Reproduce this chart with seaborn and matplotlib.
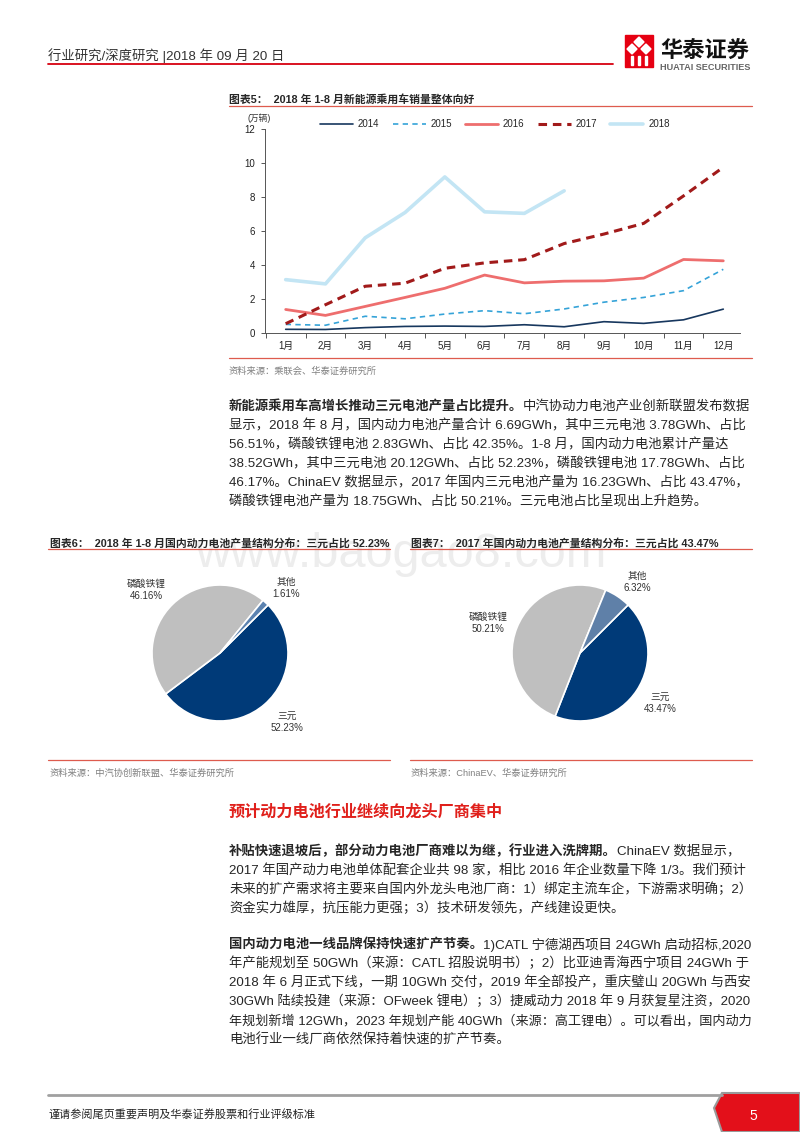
import numpy as np
import pandas as pd
import matplotlib
matplotlib.use("Agg")
import matplotlib.pyplot as plt
from matplotlib.lines import Line2D
from matplotlib.patches import Polygon, Rectangle
import seaborn as sns

# ── Data ──────────────────────────────────────────────────────
months = ["1月", "2月", "3月", "4月", "5月", "6月", "7月", "8月", "9月", "10月", "11月", "12月"]
years = ["2014", "2015", "2016", "2017", "2018"]
sales_2014 = [0.20, 0.19, 0.30, 0.37, 0.39, 0.37, 0.47, 0.35, 0.65, 0.55, 0.76, 1.39]
sales_2015 = [0.49, 0.44, 0.97, 0.82, 1.10, 1.30, 1.12, 1.40, 1.80, 2.08, 2.48, 3.74]
sales_2016 = [1.37, 1.02, 1.55, 2.08, 2.62, 3.40, 2.94, 3.04, 3.06, 3.22, 4.32, 4.24]
sales_2017 = [0.53, 1.65, 2.74, 2.92, 3.80, 4.12, 4.31, 5.26, 5.82, 6.45, 8.07, 9.76]
sales_2018 = [3.13, 2.88, 5.60, 7.09, 9.19, 7.13, 7.04, 8.37]
series = [sales_2014, sales_2015, sales_2016, sales_2017, sales_2018]

pie_labels = ["三元", "磷酸铁锂", "其他"]
pie_2018 = [52.23, 46.16, 1.61]
pie_2017 = [43.47, 50.21, 6.32]

# ── Style ─────────────────────────────────────────────────────
sns.set_theme(style="white")
plt.rcParams["font.family"] = ["Liberation Sans", "Noto Sans CJK SC"]
plt.rcParams["axes.unicode_minus"] = False

W, H = 800, 1132
fig = plt.figure(figsize=(W / 100, H / 100), dpi=100)
renderer = fig.canvas.get_renderer()

RED = "#D7000F"
RULE = "#DE5B4E"
TXT = "#262626"
GREY = "#808080"
RIGHT = 752


def fx(px):
    return px / W


def fy(py):
    return 1 - py / H


def put(x, y, s, size, color=TXT, weight="normal", ha="left", **kw):
    return fig.text(fx(x), fy(y), s, fontsize=size, color=color, fontweight=weight,
                    ha=ha, va="center_baseline", **kw)


def put_fit(x, y, s, size, **kw):
    # shrink a body line a touch if it would run past the right margin
    t = put(x, y, s, size, **kw)
    bb = t.get_window_extent(renderer)
    if bb.x1 > RIGHT:
        t.set_fontsize(size * (RIGHT - x) / (bb.x1 - x))
    return t


def put_mixed(x, y, bold, rest, size):
    t = put(x, y, bold, size, weight="bold")
    bb = t.get_window_extent(renderer)
    put_fit(bb.x1, y, rest, size)


def hline(x0, x1, y, color, lw):
    fig.add_artist(Line2D([fx(x0), fx(x1)], [fy(y), fy(y)], color=color, lw=lw,
                          transform=fig.transFigure))


# ── Watermark ─────────────────────────────────────────────────
fig.text(fx(401), fy(567), "www.baogao8.com", fontsize=35, color="#EDEDED",
         ha="center", va="baseline", zorder=0, family="Liberation Sans")

# ── Header ────────────────────────────────────────────────────
put(48, 54, "行业研究/深度研究 |2018 年 09 月 20 日", 9.6, color="#333333")
hline(48, 613, 63.5, RED, 1.3)
fig.add_artist(Rectangle((fx(625), fy(67)), 28 / W, 32 / H, color="#E60012",
                         transform=fig.transFigure))
for (dx, dy) in [(639, 42), (632, 49), (646, 49)]:
    fig.add_artist(Polygon([(fx(dx), fy(dy - 5)), (fx(dx + 5), fy(dy)), (fx(dx), fy(dy + 5)),
                            (fx(dx - 5), fy(dy))], closed=True, color="white",
                           transform=fig.transFigure))
for bx in [632, 639, 646]:
    fig.add_artist(Rectangle((fx(bx - 1), fy(65)), 2 / W, 9 / H, color="white",
                             transform=fig.transFigure))
put(660, 50, "华泰证券", 16, color="#111111", weight="bold")
put(660, 66, "HUATAI SECURITIES", 6.6, color="#666666", weight="bold")

# ── Figure 5: line chart ──────────────────────────────────────
put(229, 98.5, "图表5：  2018 年 1-8 月新能源乘用车销量整体向好", 7.8, weight="bold")
hline(229, RIGHT, 105.5, RULE, 0.9)

ax = fig.add_axes([fx(265), fy(332.7), (740 - 265) / W, (332.7 - 129.3) / H])
styles = {
    "2014": dict(color="#17375E", lw=1.2, ls="-"),
    "2015": dict(color="#35A3D8", lw=1.2, ls=(0, (3.2, 2.6))),
    "2016": dict(color="#EE6E6E", lw=2.0, ls="-"),
    "2017": dict(color="#A11A1A", lw=2.2, ls=(0, (2.8, 1.9))),
    "2018": dict(color="#C3E5F4", lw=2.6, ls="-"),
}
for yr, vals in zip(years, series):
    st = styles[yr]
    sns.lineplot(x=np.arange(len(vals)), y=vals, ax=ax, color=st["color"],
                 linewidth=st["lw"], linestyle=st["ls"], label=yr, errorbar=None)

ax.set_xlim(-0.52, 11.42)
ax.set_ylim(0, 12)
ax.set_yticks(np.arange(0, 13, 2))
ax.set_xticks(np.arange(len(months)))
ax.set_xticklabels(months)
ax.set_xticks(np.arange(-0.5, 11.0, 1), minor=True)
ax.tick_params(axis="x", which="major", length=0, labelsize=7, pad=6, labelcolor="#222222")
ax.tick_params(axis="x", which="minor", length=3.5, width=0.7, color="#555555", direction="out")
ax.tick_params(axis="y", length=3, width=0.7, color="#555555", direction="out",
               labelsize=7, pad=4, labelcolor="#222222")
ax.tick_params(bottom=True, left=True, which="both")
for side in ["top", "right"]:
    ax.spines[side].set_visible(False)
ax.spines["left"].set_color("#555555")
ax.spines["bottom"].set_color("#555555")
ax.spines["left"].set_linewidth(0.7)
ax.spines["bottom"].set_linewidth(0.7)
ax.set_xlabel("")
ax.set_ylabel("")
ax.patch.set_alpha(0)
ax.legend(ncol=5, loc="center", bbox_to_anchor=(0.484, 1.026), frameon=False,
          fontsize=7, handlelength=3.4, handletextpad=0.5, columnspacing=1.35)
put(248, 117, "(万辆)", 6.3, color="#333333")

hline(229, RIGHT, 357.7, RULE, 0.9)
put(229, 370, "资料来源：乘联会、华泰证券研究所", 6.7, color=GREY)

# ── Paragraph 1 ───────────────────────────────────────────────
BODY = 9.6
LS = 19
y0 = 405
put_mixed(229, y0, "新能源乘用车高增长推动三元电池产量占比提升。", "中汽协动力电池产业创新联盟发布数据", BODY)
para1 = [
    "显示，2018 年 8 月，国内动力电池产量合计 6.69GWh，其中三元电池 3.78GWh、占比",
    "56.51%，磷酸铁锂电池 2.83GWh、占比 42.35%。1-8 月，国内动力电池累计产量达",
    "38.52GWh，其中三元电池 20.12GWh、占比 52.23%，磷酸铁锂电池 17.78GWh、占比",
    "46.17%。ChinaEV 数据显示，2017 年国内三元电池产量为 16.23GWh、占比 43.47%，",
    "磷酸铁锂电池产量为 18.75GWh、占比 50.21%。三元电池占比呈现出上升趋势。",
]
for i, line in enumerate(para1, start=1):
    put_fit(229, y0 + i * LS, line, BODY)

# ── Figures 6 & 7: pies ───────────────────────────────────────
put(50, 542.5, "图表6：  2018 年 1-8 月国内动力电池产量结构分布：三元占比 52.23%", 7.8, weight="bold")
put(411, 542.5, "图表7：  2017 年国内动力电池产量结构分布：三元占比 43.47%", 7.8, weight="bold")
hline(48, 390, 549, RULE, 0.9)
hline(410, RIGHT, 549, RULE, 0.9)


def draw_pie(cx, cy, r, values, colors, label_pos):
    half = r * 1.25
    pax = fig.add_axes([fx(cx - half), fy(cy + half), 2 * half / W, 2 * half / H])
    pax.pie(values, colors=colors, startangle=45, counterclock=False,
            wedgeprops=dict(edgecolor="white", linewidth=1.2))
    pax.set_xlim(-1.25, 1.25)
    pax.set_ylim(-1.25, 1.25)
    for lab, val, (lx, ly) in zip(pie_labels, values, label_pos):
        pax.text(lx, ly, f"{lab}\n{val:.2f}%", ha="center", va="center",
                 fontsize=7, linespacing=1.25, color="#333333")


draw_pie(220, 653, 68, pie_2018, ["#003A78", "#BFBFBF", "#5B82B0"],
         [(0.99, -1.01), (-1.09, 0.93), (0.97, 0.96)])
draw_pie(580, 653, 68, pie_2017, ["#003A78", "#BFBFBF", "#5F80A8"],
         [(1.18, -0.74), (-1.35, 0.44), (0.84, 1.04)])

hline(48, 390, 759.5, RULE, 0.9)
hline(410, RIGHT, 759.5, RULE, 0.9)
put(50, 772, "资料来源：中汽协创新联盟、华泰证券研究所", 6.7, color=GREY)
put(411, 772, "资料来源：ChinaEV、华泰证券研究所", 6.7, color=GREY)

# ── Section heading + paragraphs 2, 3 ─────────────────────────
put(229, 811, "预计动力电池行业继续向龙头厂商集中", 11.6, color="#E0201B", weight="bold")

y0 = 850
put_mixed(229, y0, "补贴快速退坡后，部分动力电池厂商难以为继，行业进入洗牌期。", "ChinaEV 数据显示，", BODY)
para2 = [
    "2017 年国产动力电池单体配套企业共 98 家，相比 2016 年企业数量下降 1/3。我们预计",
    "未来的扩产需求将主要来自国内外龙头电池厂商：1）绑定主流车企，下游需求明确；2）",
    "资金实力雄厚，抗压能力更强；3）技术研发领先，产线建设更快。",
]
for i, line in enumerate(para2, start=1):
    put_fit(229, y0 + i * LS, line, BODY)

y0 = 943
put_mixed(229, y0, "国内动力电池一线品牌保持快速扩产节奏。", "1)CATL 宁德湖西项目 24GWh 启动招标,2020", BODY)
para3 = [
    "年产能规划至 50GWh（来源：CATL 招股说明书）；2）比亚迪青海西宁项目 24GWh 于",
    "2018 年 6 月正式下线，一期 10GWh 交付，2019 年全部投产，重庆璧山 20GWh 与西安",
    "30GWh 陆续投建（来源：OFweek 锂电）；3）捷威动力 2018 年 9 月获复星注资，2020",
    "年规划新增 12GWh，2023 年规划产能 40GWh（来源：高工锂电）。可以看出，国内动力",
    "电池行业一线厂商依然保持着快速的扩产节奏。",
]
for i, line in enumerate(para3, start=1):
    put_fit(229, y0 + i * LS, line, BODY)

# ── Footer ────────────────────────────────────────────────────
hline(48, 722, 1095, "#A0A0A0", 2.0)
fig.add_artist(Polygon([(fx(722), fy(1093)), (fx(800), fy(1093)), (fx(800), fy(1132)),
                        (fx(722), fy(1132)), (fx(714), fy(1108))], closed=True,
                       facecolor="#E3101A", edgecolor="#9A9A9A", lw=1.5,
                       transform=fig.transFigure))
put(749, 1114, "5", 10, color="white")
put(48, 1114, "谨请参阅尾页重要声明及华泰证券股票和行业评级标准", 8, color="#222222")

fig.savefig("out.png", dpi=100)
